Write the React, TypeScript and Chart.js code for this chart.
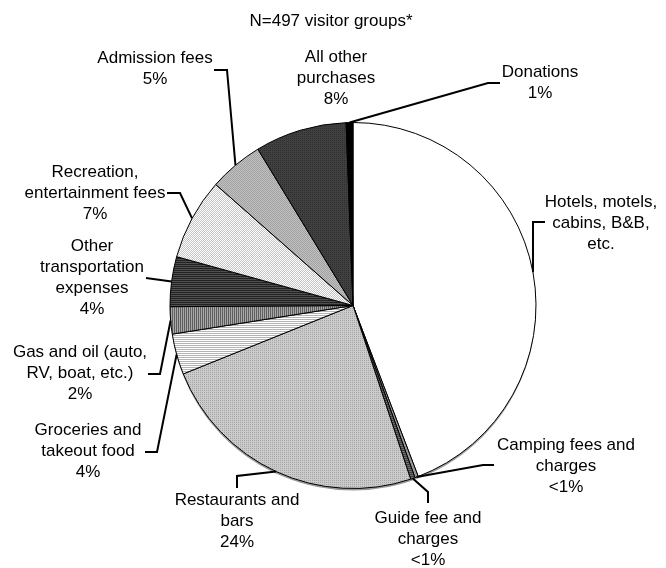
import React, { useEffect, useRef } from "react";
import { Chart, registerables } from "chart.js";

Chart.register(...registerables);

const TITLE = "N=497 visitor groups*";
const categories = [
  "Hotels, motels, cabins, B&B, etc.",
  "Camping fees and charges",
  "Guide fee and charges",
  "Restaurants and bars",
  "Groceries and takeout food",
  "Gas and oil (auto, RV, boat, etc.)",
  "Other transportation expenses",
  "Recreation, entertainment fees",
  "Admission fees",
  "All other purchases",
  "Donations",
];
const values = [44.2, 0.3, 0.4, 24.0, 3.6, 2.4, 4.4, 7.2, 4.8, 8.1, 0.6];
const percentLabels = ["", "<1%", "<1%", "24%", "4%", "2%", "4%", "7%", "5%", "8%", "1%"];
const labelLines = [
  ["Hotels, motels,", "cabins, B&B,", "etc."],
  ["Camping fees and", "charges"],
  ["Guide fee and", "charges"],
  ["Restaurants and", "bars"],
  ["Groceries and", "takeout food"],
  ["Gas and oil (auto,", "RV, boat, etc.)"],
  ["Other", "transportation", "expenses"],
  ["Recreation,", "entertainment fees"],
  ["Admission fees"],
  ["All other", "purchases"],
  ["Donations"],
];

// layout: label text anchor (center x, first line y) and fixed leader points
const labelLayout: { x: number; y: number; leader: number[][] | null }[] = [
  { x: 601, y: 202, leader: [[545, 222], [533, 222]] },
  { x: 566, y: 445, leader: [[494, 465], [483, 465]] },
  { x: 428, y: 518, leader: [[428, 503], [428, 492]] },
  { x: 237, y: 500, leader: [[237, 488], [237, 476]] },
  { x: 88, y: 430, leader: [[145, 452], [157, 452]] },
  { x: 80, y: 352, leader: [[148, 374], [160, 374]] },
  { x: 92, y: 246, leader: [[146, 278]] },
  { x: 95, y: 172, leader: [[167, 193], [180, 193]] },
  { x: 155, y: 58, leader: [[214, 70], [227, 70]] },
  { x: 336, y: 57, leader: null },
  { x: 540, y: 72, leader: [[500, 83], [488, 83]] },
];

function tile(size: number, draw: (c: CanvasRenderingContext2D) => void) {
  const cv = document.createElement("canvas");
  cv.width = size;
  cv.height = size;
  const c = cv.getContext("2d")!;
  draw(c);
  return c.createPattern(cv, "repeat")!;
}
function px(c: CanvasRenderingContext2D, x: number, y: number, col: string) {
  c.fillStyle = col;
  c.fillRect(x, y, 1, 1);
}

function makeFills() {
  const hstripe = (a: string, b: string) =>
    tile(2, (c) => {
      px(c, 0, 0, a); px(c, 1, 0, a); px(c, 0, 1, b); px(c, 1, 1, b);
    });
  const vstripe = (a: string, b: string) =>
    tile(2, (c) => {
      px(c, 0, 0, a); px(c, 0, 1, a); px(c, 1, 0, b); px(c, 1, 1, b);
    });
  const checker = (a: string, b: string) =>
    tile(2, (c) => {
      px(c, 0, 0, a); px(c, 1, 1, a); px(c, 1, 0, b); px(c, 0, 1, b);
    });
  const dots = (a: string, b: string) =>
    tile(2, (c) => {
      px(c, 0, 0, a); px(c, 1, 1, b); px(c, 1, 0, b); px(c, 0, 1, b);
    });
  return [
    "#ffffff",
    "#9a9a9a",
    hstripe("#404040", "#707070"),
    dots("#a4a4a4", "#cbcbcb"),
    hstripe("#ffffff", "#b4b4b4"),
    vstripe("#5e5e5e", "#a8a8a8"),
    hstripe("#222222", "#505050"),
    checker("#ffffff", "#c4c4c4"),
    checker("#a2a2a2", "#c0c0c0"),
    dots("#2e2e2e", "#404040"),
    "#000000",
  ];
}

const FONT = '17px "Liberation Sans", Arial, sans-serif';
const LINE_H = 21;

const labelPlugin = {
  id: "labelPlugin",
  beforeDatasetsDraw(chart: any) {
    const meta = chart.getDatasetMeta(0);
    const a = meta.data[0];
    if (!a) return;
    const ctx = chart.ctx;
    ctx.save();
    ctx.fillStyle = "#9a9a9a";
    ctx.beginPath();
    ctx.arc(a.x, a.y + 2, a.outerRadius, 0, Math.PI * 2);
    ctx.fill();
    ctx.restore();
  },
  afterDraw(chart: any) {
    const ctx = chart.ctx;
    const meta = chart.getDatasetMeta(0);
    ctx.save();
    ctx.font = FONT;
    ctx.fillStyle = "#000";
    ctx.textAlign = "center";
    ctx.textBaseline = "middle";
    ctx.fillText(TITLE, 331, 21);
    labelLayout.forEach((lay, i) => {
      const lines = [...labelLines[i]];
      if (percentLabels[i]) lines.push(percentLabels[i]);
      lines.forEach((t, k) => ctx.fillText(t, lay.x, lay.y + k * LINE_H));
      if (lay.leader) {
        const arc = meta.data[i];
        const mid = (arc.startAngle + arc.endAngle) / 2;
        const ex = arc.x + Math.cos(mid) * arc.outerRadius;
        const ey = arc.y + Math.sin(mid) * arc.outerRadius;
        ctx.strokeStyle = "#000";
        ctx.lineWidth = 2;
        ctx.lineJoin = "miter";
        ctx.beginPath();
        ctx.moveTo(lay.leader[0][0], lay.leader[0][1]);
        for (let k = 1; k < lay.leader.length; k++) ctx.lineTo(lay.leader[k][0], lay.leader[k][1]);
        ctx.lineTo(ex, ey);
        ctx.stroke();
      }
    });
    ctx.restore();
  },
};

export default function App() {
  const ref = useRef<HTMLCanvasElement | null>(null);
  useEffect(() => {
    if (!ref.current) return;
    const chart = new Chart(ref.current, {
      type: "pie",
      data: {
        labels: categories,
        datasets: [
          {
            data: values,
            backgroundColor: makeFills() as any,
            borderColor: "#000000",
            borderWidth: 1,
            borderAlign: "center",
          },
        ],
      },
      options: {
        responsive: false,
        animation: false,
        radius: 183,
        layout: { padding: { left: 60, right: 20, top: 63, bottom: 20 } },
        plugins: { legend: { display: false }, tooltip: { enabled: false }, title: { display: false } },
      } as any,
      plugins: [labelPlugin],
    });
    return () => chart.destroy();
  }, []);
  return (
    <div style={{ position: "fixed", left: 0, top: 0, width: 666, height: 568, background: "#fff" }}>
      <canvas ref={ref} width={666} height={568} style={{ display: "block" }} />
    </div>
  );
}
